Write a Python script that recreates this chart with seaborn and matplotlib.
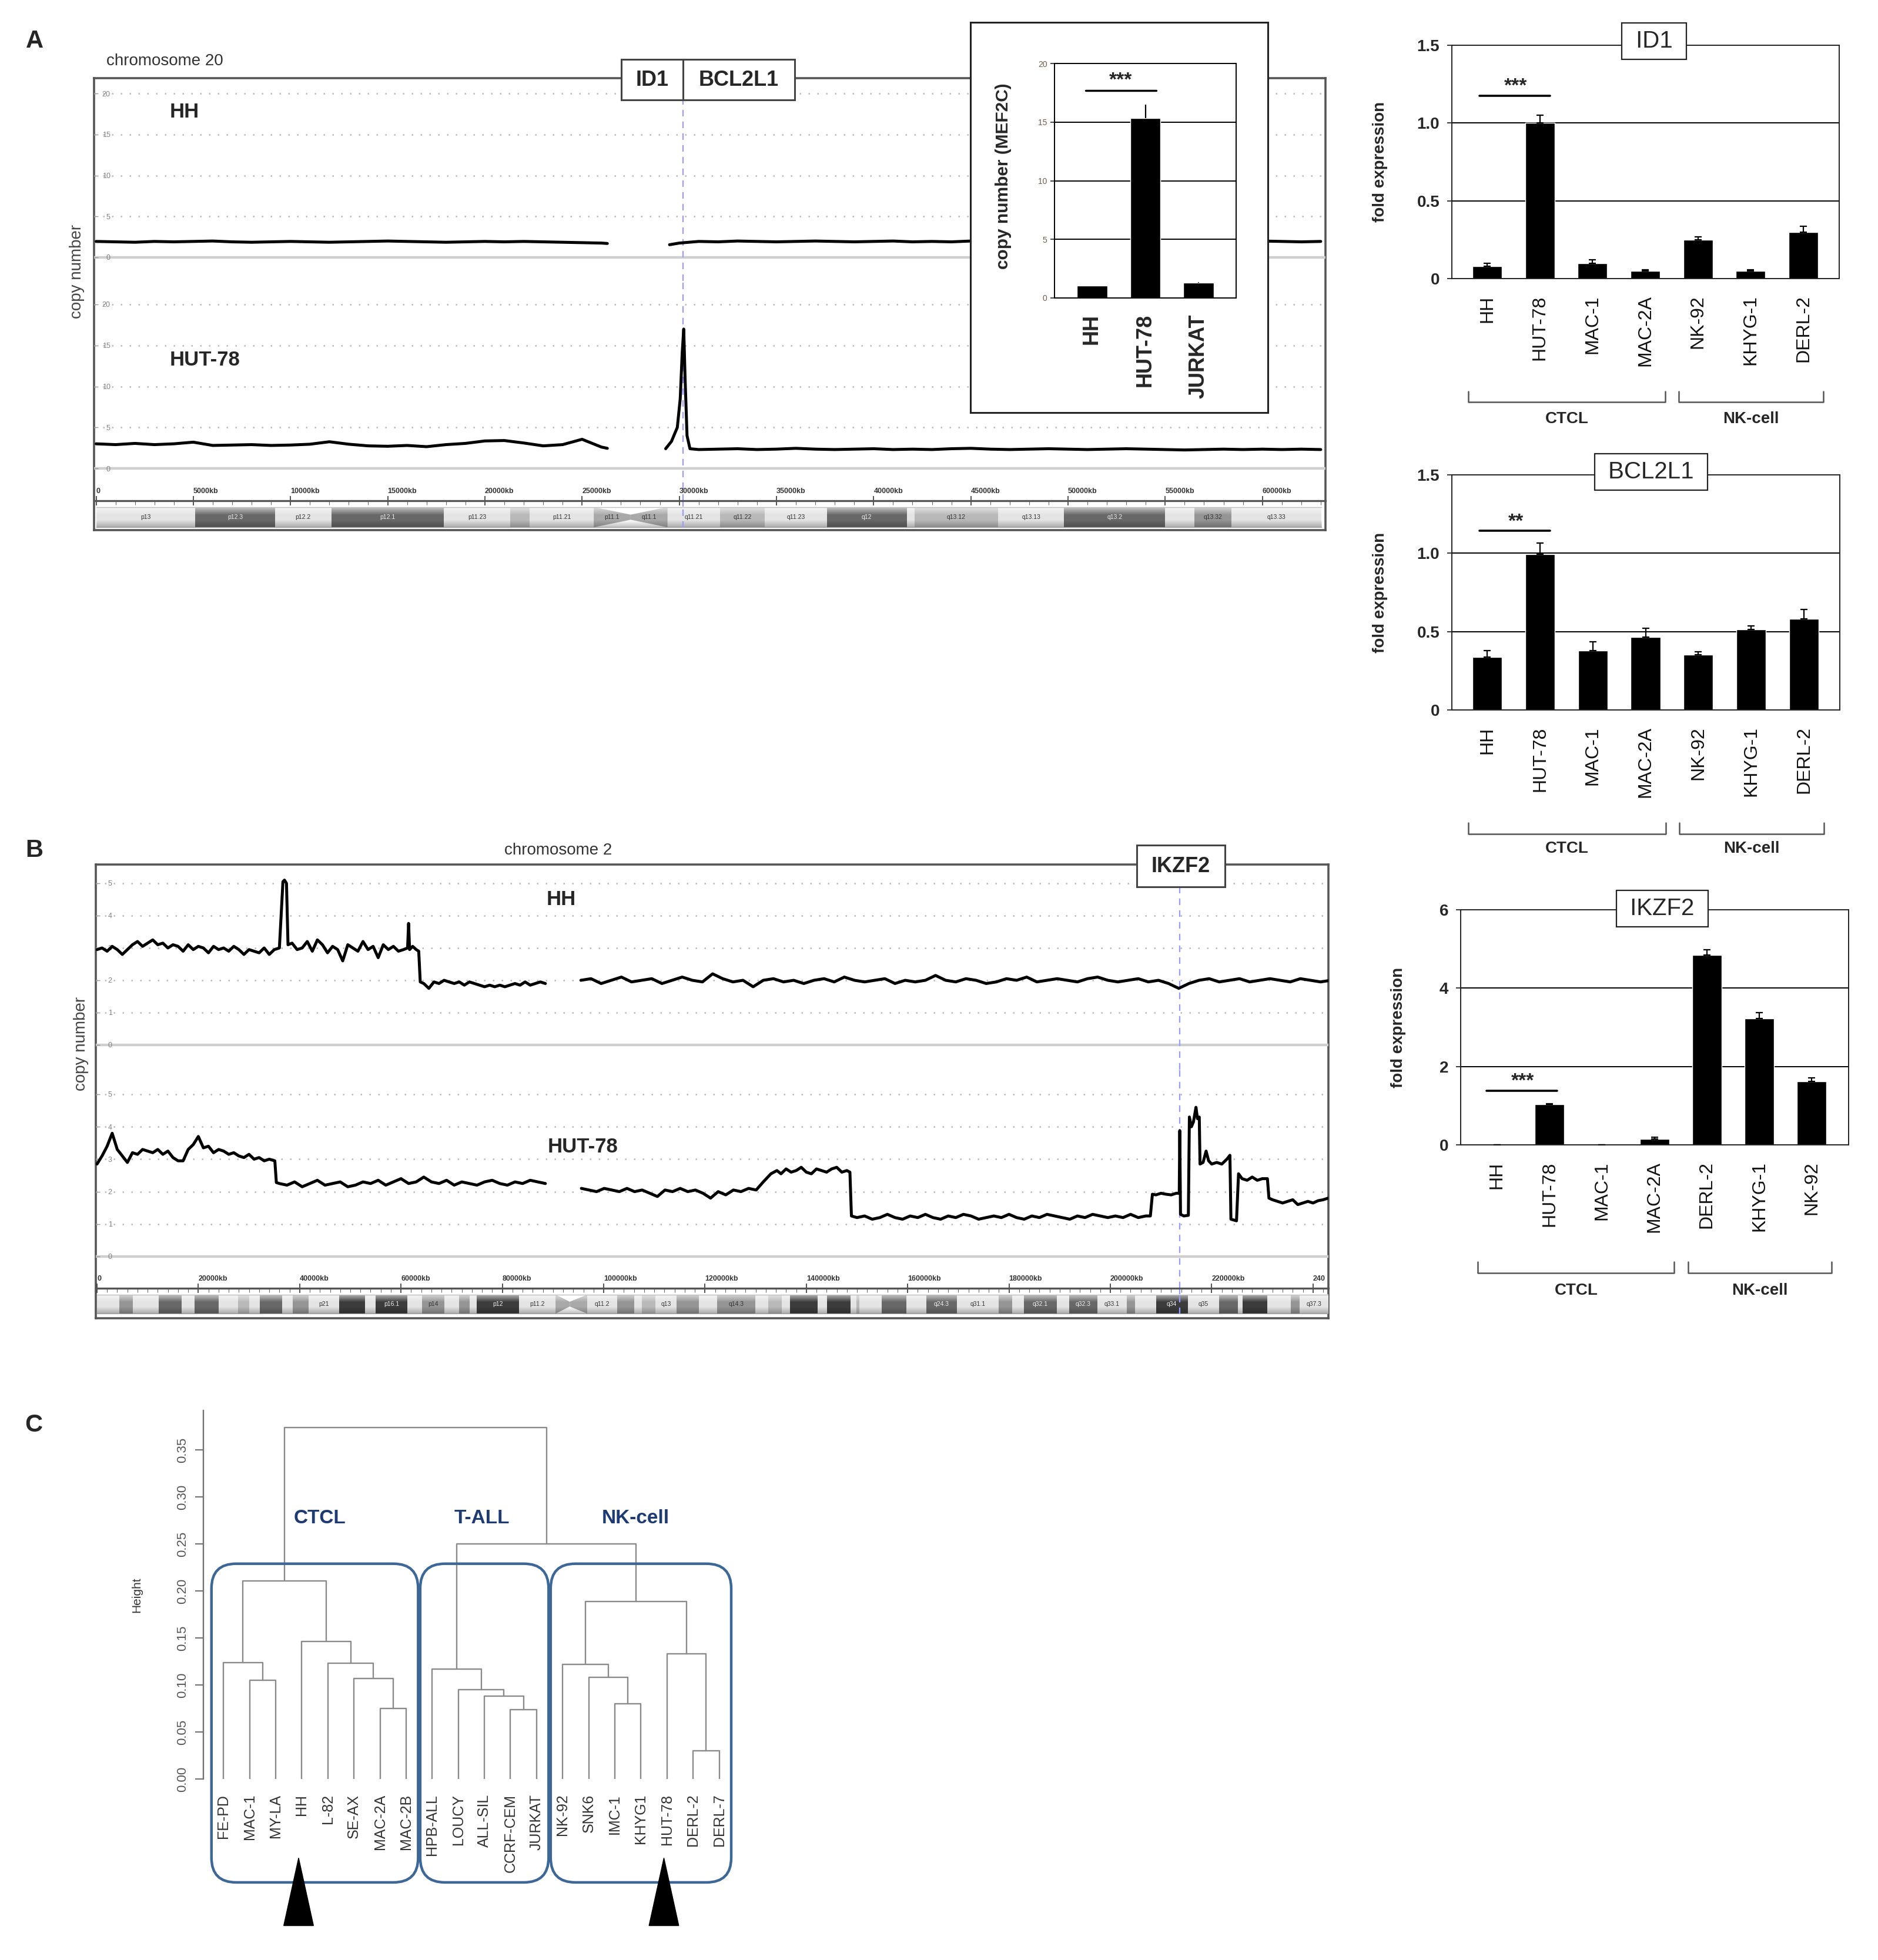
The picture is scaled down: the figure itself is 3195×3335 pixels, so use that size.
import numpy as np
import pandas as pd
import matplotlib
matplotlib.use("Agg")
import matplotlib.pyplot as plt
import matplotlib.transforms as mtransforms
from matplotlib.patches import Rectangle, FancyBboxPatch, Polygon
import seaborn as sns

sns.set_style("white")
plt.rcParams["font.family"] = ["Liberation Sans", "DejaVu Sans"]

# ============================ DATA ============================
# --- Panel A: qPCR bar charts ---
id1_cells = ["HH", "HUT-78", "MAC-1", "MAC-2A", "NK-92", "KHYG-1", "DERL-2"]
id1_vals = [0.08, 1.00, 0.10, 0.05, 0.25, 0.05, 0.30]
id1_errs = [0.02, 0.05, 0.02, 0.005, 0.02, 0.005, 0.035]

bcl_cells = ["HH", "HUT-78", "MAC-1", "MAC-2A", "NK-92", "KHYG-1", "DERL-2"]
bcl_vals = [0.336, 0.995, 0.379, 0.466, 0.353, 0.512, 0.581]
bcl_errs = [0.044, 0.07, 0.055, 0.054, 0.017, 0.023, 0.06]

ikz_cells = ["HH", "HUT-78", "MAC-1", "MAC-2A", "DERL-2", "KHYG-1", "NK-92"]
ikz_vals = [0.0, 1.03, 0.0, 0.15, 4.84, 3.23, 1.62]
ikz_errs = [0.0, 0.02, 0.0, 0.04, 0.14, 0.14, 0.09]

group_names = ["CTCL", "NK-cell"]
group_first = [0, 4]
group_last = [3, 6]

# inset: MEF2C copy number
mef_cells = ["HH", "HUT-78", "JURKAT"]
mef_vals = [1.05, 15.33, 1.30]
mef_errs = [0.0, 1.17, 0.05]

# --- chromosome 20 copy-number traces (Mb, copy number) ---
chr20_gene = 30.2
hh20_p = [1.95, 1.9, 1.85, 1.95, 1.9, 1.95, 2.0, 1.9, 1.85, 1.9, 1.95, 1.9, 1.85, 1.9,
          1.95, 2.0, 1.95, 1.9, 1.85, 1.9, 1.95, 1.9, 1.95, 1.9, 1.85, 1.8, 1.75]
hh20_gap_pos = [26.3, 27.8, 29.5, 30.0, 30.5]
hh20_gap_val = [1.7, np.nan, 1.55, 1.75, 1.85]
hh20_q = [1.95, 1.9, 2.0, 1.95, 1.9, 1.95, 2.0, 1.95, 1.9, 1.95, 2.0, 1.9, 1.95, 1.9, 2.0,
          1.95, 1.9, 1.95, 1.9, 2.0, 1.95, 1.9, 1.95, 2.0, 1.95, 1.9, 1.95, 1.9, 1.95, 2.0,
          1.95, 1.9, 1.95]
hut20_p = [3.0, 2.9, 3.05, 2.9, 3.0, 3.2, 2.8, 2.85, 2.9, 2.8, 2.85, 2.95, 3.25, 2.95,
           2.75, 2.7, 2.8, 2.65, 2.9, 3.05, 3.35, 3.4, 3.1, 2.75, 2.9, 3.55, 2.6]
hut20_amp_pos = [26.3, 27.8, 29.3, 29.6, 29.9, 30.05, 30.15, 30.23, 30.3, 30.4, 30.55]
hut20_amp_val = [2.45, np.nan, 2.4, 3.3, 5.0, 8.5, 14.0, 17.0, 11.0, 4.0, 2.4]
hut20_q = [2.3, 2.35, 2.4, 2.3, 2.35, 2.45, 2.35, 2.3, 2.35, 2.4, 2.3, 2.35, 2.3, 2.4,
           2.45, 2.35, 2.3, 2.35, 2.4, 2.35, 2.3, 2.35, 2.4, 2.35, 2.3, 2.25, 2.3, 2.35,
           2.3, 2.35, 2.3, 2.35, 2.3]

# --- chromosome 2 copy-number traces ---
chr2_gene = 213.7
hh2_a = [2.95, 3.0, 2.9, 3.05, 2.95, 2.8, 2.95, 3.1, 3.2, 3.05, 3.15, 3.25, 3.1, 3.15,
         3.0, 3.1, 3.05, 2.9, 3.1, 2.95, 3.05, 3.0, 2.85, 3.05, 2.95, 3.0, 2.9, 3.05,
         2.95, 2.8, 2.95, 2.9, 2.85, 3.0, 2.8, 2.95, 3.0]
hh2_spk_pos = [36.7, 37.0, 37.4, 37.7]
hh2_spk_val = [5.05, 5.1, 5.0, 3.1]
hh2_b = [3.15, 2.95, 3.0, 3.2, 2.9, 3.25, 3.1, 2.85, 3.05, 2.95, 2.6, 3.1, 3.0, 2.9,
         3.2, 2.95, 3.05, 2.7, 3.1, 2.95, 3.05, 2.9, 2.95]
hh2_brk_pos = [61.3, 61.5, 61.7, 62.3, 63.0, 63.5, 63.8]
hh2_brk_val = [3.0, 3.76, 2.95, 3.05, 2.95, 2.9, 1.95]
hh2_c = [1.9, 1.75, 1.95, 1.9, 2.0, 1.95, 1.9, 1.95, 1.85, 1.95, 1.9, 1.85, 1.8, 1.85,
         1.8, 1.85, 1.8, 1.85, 1.9, 1.85, 1.95, 1.85, 1.9, 1.95, 1.9]
hh2_d = [2.0, 2.05, 1.9, 2.0, 2.1, 1.95, 2.0, 2.05, 1.9, 2.0,
         2.1, 2.0, 1.95, 2.2, 2.05, 1.95, 2.0, 1.8, 2.0, 2.05,
         1.95, 2.0, 1.9, 2.0, 2.05, 1.95, 2.1, 2.0, 1.95, 2.0,
         2.05, 1.9, 2.0, 1.95, 2.0, 2.15, 2.0, 1.95, 2.05, 2.0,
         1.9, 1.95, 2.05, 2.0, 2.1, 1.95, 2.0, 2.05, 2.0, 1.95,
         2.05, 2.1, 2.0, 1.95, 2.0, 2.05, 1.95, 2.0, 1.9, 1.75,
         1.9, 2.0, 2.05, 1.95, 2.0, 2.05, 1.95, 2.0, 2.05, 2.0,
         1.95, 2.05, 2.0, 1.95, 2.0]

hut2_a = [2.85, 3.1, 3.4, 3.8, 3.3, 3.1, 2.9, 3.2, 3.15, 3.3, 3.25, 3.2, 3.3, 3.15,
          3.25, 3.05, 2.95, 2.95, 3.3, 3.45, 3.7, 3.35, 3.4, 3.2, 3.3, 3.25, 3.15, 3.2,
          3.1, 3.05, 3.15, 3.0, 3.05, 2.95, 3.0]
hut2_s1_pos = [35.1, 35.4]
hut2_s1_val = [2.95, 2.28]
hut2_b = [2.25, 2.2, 2.3, 2.15, 2.25, 2.35, 2.2, 2.25, 2.3, 2.15, 2.2, 2.3, 2.25, 2.35,
          2.2, 2.3, 2.4, 2.25, 2.3, 2.45, 2.3, 2.25, 2.35, 2.2, 2.3, 2.25, 2.2, 2.3,
          2.35, 2.25, 2.2, 2.3, 2.25, 2.35, 2.3, 2.25]
hut2_gap_pos = [92.0]
hut2_gap_val = [np.nan]
hut2_c = [2.1, 2.05, 2.0, 2.1, 2.05, 2.0, 2.1, 2.0, 2.05, 1.95, 1.85, 2.05, 2.0, 2.1,
          2.0, 2.05, 1.95, 1.8, 2.0, 1.9, 2.05, 2.0, 2.1, 2.05]
hut2_ramp_pos = [131.5, 133.0, 134.2]
hut2_ramp_val = [2.3, 2.55, 2.65]
hut2_d = [2.55, 2.7, 2.6, 2.65, 2.75, 2.6, 2.55, 2.7, 2.65, 2.6, 2.7, 2.75, 2.6, 2.65]
hut2_s2_pos = [148.6, 148.9]
hut2_s2_val = [2.6, 1.25]
hut2_e = [1.2, 1.25, 1.15, 1.2, 1.3, 1.2, 1.15, 1.25, 1.2, 1.3, 1.2, 1.15, 1.25, 1.2,
          1.3, 1.25, 1.15, 1.2, 1.25, 1.2, 1.3, 1.2, 1.15, 1.25, 1.2, 1.3, 1.25, 1.2,
          1.15, 1.25, 1.2, 1.3, 1.25, 1.2, 1.25, 1.2, 1.3, 1.2, 1.25]
hut2_tail_pos = [207.9, 208.3, 209, 210, 211, 212, 213, 213.6, 213.7, 213.85, 214.5,
                 215.4, 215.6, 216.0, 216.4, 216.9, 217.2, 217.55, 217.7, 218.3, 218.9,
                 219.4, 220, 221, 222, 223, 223.6, 223.8, 224.9, 225.3, 226, 227, 228,
                 229, 230, 231, 231.3, 232, 233, 234, 235, 236, 237, 238, 239, 240, 241,
                 242, 243]
hut2_tail_val = [1.25, 1.92, 1.9, 1.95, 1.92, 1.9, 1.95, 1.95, 3.88, 1.3, 1.25, 1.27,
                 4.3, 4.0, 4.15, 4.6, 4.25, 4.3, 2.85, 2.9, 3.25, 2.95, 2.85, 2.9, 2.85,
                 3.0, 3.12, 1.15, 1.1, 2.55, 2.4, 2.35, 2.45, 2.35, 2.4, 2.4, 1.8, 1.75,
                 1.7, 1.65, 1.7, 1.75, 1.6, 1.65, 1.7, 1.65, 1.72, 1.75, 1.8]

# --- cytobands ---
chr20_band_start = [0, 5.1, 9.2, 12.1, 17.9, 21.3, 22.3, 25.6, 27.5, 29.4, 32.1, 34.4,
                    37.6, 41.7, 42.1, 46.4, 49.8, 55.0, 56.5, 58.4]
chr20_len = 63.03
chr20_band_stain = ["gneg", "gpos75", "gneg", "gpos75", "gneg", "gpos25", "gneg", "acen",
                    "acen", "gneg", "gpos25", "gneg", "gpos75", "gneg", "gpos25", "gneg",
                    "gpos75", "gneg", "gpos50", "gneg"]
chr20_band_name = ["p13", "p12.3", "p12.2", "p12.1", "p11.23", "", "p11.21", "p11.1",
                   "q11.1", "q11.21", "q11.22", "q11.23", "q12", "", "q13.12", "q13.13",
                   "q13.2", "", "q13.32", "q13.33"]

chr2_band_start = [0, 4.4, 7.1, 12.2, 16.7, 19.2, 24.0, 27.9, 30.0, 32.1, 36.6, 38.6,
                   41.8, 47.8, 52.9, 55.0, 61.3, 64.1, 68.6, 71.5, 73.5, 75.0, 83.3, 90.5,
                   93.3, 96.8, 102.7, 106.0, 107.5, 110.2, 114.4, 118.8, 122.4, 129.9,
                   132.5, 135.1, 136.8, 142.2, 144.1, 148.7, 149.9, 150.5, 154.9, 159.8,
                   163.7, 169.7, 178.0, 180.6, 183.0, 189.4, 191.9, 197.4, 203.3, 204.9,
                   209.0, 215.3, 221.5, 225.2, 226.1, 231.0, 235.6, 237.3]
chr2_len = 243.2
chr2_band_stain = ["gneg", "gpos50", "gneg", "gpos75", "gneg", "gpos75", "gneg", "gpos25",
                   "gneg", "gpos75", "gneg", "gpos50", "gneg", "gpos100", "gneg", "gpos100",
                   "gneg", "gpos50", "gneg", "gpos50", "gneg", "gpos100", "gneg", "acen",
                   "acen", "gneg", "gpos50", "gneg", "gpos25", "gneg", "gpos50", "gneg",
                   "gpos50", "gneg", "gpos25", "gneg", "gpos100", "gneg", "gpos100", "gneg",
                   "gpos25", "gneg", "gpos75", "gneg", "gpos75", "gneg", "gpos50", "gneg",
                   "gpos75", "gneg", "gpos75", "gneg", "gpos50", "gneg", "gpos100", "gneg",
                   "gpos75", "gneg", "gpos100", "gneg", "gpos50", "gneg"]
chr2_band_name = ["", "", "", "", "", "", "", "", "", "", "", "", "p21", "", "", "p16.1",
                  "", "p14", "", "", "", "p12", "p11.2", "", "", "q11.2", "", "", "", "q13",
                  "", "", "q14.3", "", "", "", "", "", "", "", "", "", "", "", "q24.3",
                  "q31.1", "", "", "q32.1", "", "q32.3", "q33.1", "", "", "q34", "q35", "",
                  "", "", "", "", "q37.3"]

# --- Panel C: hierarchical clustering ---
leaf_names = ["FE-PD", "MAC-1", "MY-LA", "HH", "L-82", "SE-AX", "MAC-2A", "MAC-2B",
              "HPB-ALL", "LOUCY", "ALL-SIL", "CCRF-CEM", "JURKAT", "NK-92", "SNK6",
              "IMC-1", "KHYG1", "HUT-78", "DERL-2", "DERL-7"]
merge_a = [18, 11, 6, 15, 10, 9, 1, 5, 14, 8, 13, 4, 0, 17, 3, 30, 32, 29, 36]
merge_b = [19, 12, 7, 16, 21, 24, 2, 22, 23, 25, 28, 27, 26, 20, 31, 33, 34, 35, 37]
merge_h = [0.030, 0.074, 0.075, 0.080, 0.088, 0.095, 0.105, 0.107, 0.108, 0.117, 0.122,
           0.123, 0.124, 0.133, 0.146, 0.189, 0.211, 0.250, 0.374]
clust_names = ["CTCL", "T-ALL", "NK-cell"]
clust_first = [0, 8, 13]
clust_last = [7, 12, 19]
clust_label_x = [3.7, 9.9, 15.8]
marked_leaves = ["HH", "HUT-78"]

# ============================ FIGURE ============================
W, H = 3195, 3335
fig = plt.figure(figsize=(W / 100, H / 100), dpi=100)
fig.patch.set_facecolor("white")


def add_ax(x0, x1, y0, y1):
    return fig.add_axes([x0 / W, 1 - y1 / H, (x1 - x0) / W, (y1 - y0) / H])


def seg(start, step, vals):
    return start + step * np.arange(len(vals)), np.asarray(vals, float)


def pts(pos, vals):
    return np.asarray(pos, float), np.asarray(vals, float)


def join(*parts):
    return (np.concatenate([p[0] for p in parts]), np.concatenate([p[1] for p in parts]))


def lim_from_px(top_px, bot_px, zero_px, ref_px, ref_val):
    k = (zero_px - ref_px) / ref_val
    return (-(bot_px - zero_px) / k, ref_val + (ref_px - top_px) / k)


GENE_COL = "#9a9aff"


def frame_ax(x0, x1, y0, y1, ec="#555555", lw=2.6):
    ax = add_ax(x0, x1, y0, y1)
    ax.set_xticks([]); ax.set_yticks([])
    ax.set_facecolor("white")
    for s in ax.spines.values():
        s.set_visible(True); s.set_color(ec); s.set_linewidth(lw)
    return ax


def plot_trace(ax, x, y):
    idx = np.where(np.isnan(y))[0]
    bounds = [-1] + list(idx) + [len(y)]
    for a, b in zip(bounds[:-1], bounds[1:]):
        xs, ys = x[a + 1:b], y[a + 1:b]
        if len(xs) > 1:
            sns.lineplot(x=xs, y=ys, ax=ax, color="black", linewidth=3.6,
                         estimator=None, sort=False, legend=False)


def draw_track(ax, x, y, grid, xlim, ylim, gene):
    plot_trace(ax, x, y)
    ax.set_xlim(*xlim); ax.set_ylim(*ylim)
    ax.patch.set_alpha(0)
    for s in ax.spines.values():
        s.set_visible(False)
    for g in grid[1:]:
        ax.axhline(g, color="#b8b8b8", lw=1.8, ls=(0, (1, 5)), zorder=0)
    ax.axhline(0, color="#cfcfcf", lw=3.2, zorder=0)
    ax.axvline(gene, color=GENE_COL, lw=1.6, ls=(0, (5, 4)), zorder=0.5)
    ax.set_xticks([]); ax.set_xlabel(""); ax.set_ylabel("")
    ax.set_yticks(grid)
    ax.set_yticklabels([str(g) for g in grid])
    ax.tick_params(axis="y", left=True, direction="in", length=5, width=1,
                   pad=-20, labelsize=9, labelcolor="#808080", color="#999999")


def draw_ruler(ax, xlim, major, labels, minor, gene):
    ax.set_xlim(*xlim); ax.set_ylim(0, 1)
    ax.patch.set_alpha(0)
    for k in ["left", "right", "bottom"]:
        ax.spines[k].set_visible(False)
    ax.spines["top"].set_visible(True)
    ax.spines["top"].set_color("#555555"); ax.spines["top"].set_linewidth(2.4)
    ax.xaxis.tick_top()
    ax.set_xticks(major)
    ax.set_xticklabels(labels, fontsize=9, fontweight="bold", color="#333333")
    ax.set_xticks(minor, minor=True)
    ax.tick_params(axis="x", which="major", top=True, bottom=False, direction="inout",
                   length=12, width=1.3, color="#444444", pad=1)
    ax.tick_params(axis="x", which="minor", top=True, bottom=False, direction="in",
                   length=5, width=0.8, color="#666666")
    for t in ax.get_xticklabels():
        t.set_ha("left")
    ax.set_yticks([])
    ax.axvline(gene, color=GENE_COL, lw=1.6, ls=(0, (5, 4)))


STAIN_COL = {"gneg": "#e4e4e4", "gpos25": "#b9b9b9", "gpos50": "#959595",
             "gpos75": "#686868", "gpos100": "#3c3c3c", "acen": "#a9a9a9"}


def draw_ideogram(ax, starts, length, stains, names, xlim, gene):
    ends = list(starts[1:]) + [length]
    ax.set_xlim(*xlim); ax.set_ylim(0, 1)
    ax.axis("off")
    first_acen = True
    for s, e, st, nm in zip(starts, ends, stains, names):
        col = STAIN_COL[st]
        if st == "acen":
            if first_acen:
                poly = [(s, 0.02), (s, 0.98), (e, 0.62), (e, 0.38)]
                first_acen = False
            else:
                poly = [(s, 0.38), (s, 0.62), (e, 0.98), (e, 0.02)]
            ax.add_patch(Polygon(poly, closed=True, fc=col, ec="none", zorder=1))
        else:
            ax.bar(s, 0.96, width=e - s, bottom=0.02, align="edge", color=col,
                   edgecolor="none", zorder=1)
        if nm:
            tc = "#eeeeee" if st in ("gpos75", "gpos100") else "#333333"
            ax.text((s + e) / 2, 0.5, nm, ha="center", va="center", fontsize=7.5,
                    color=tc, zorder=4)
    t = np.linspace(0, 1, 60)
    rgba = np.zeros((60, 1, 4))
    rgba[:, 0, :3] = 1.0
    rgba[:, 0, 3] = np.clip(0.65 - 1.6 * t, 0, None)
    ax.imshow(rgba, extent=[starts[0], length, 0.02, 0.98], aspect="auto", zorder=2,
              interpolation="bilinear")
    shade = np.zeros((60, 1, 4))
    shade[:, 0, 3] = np.clip((t - 0.65) * 0.7, 0, None)
    ax.imshow(shade, extent=[starts[0], length, 0.02, 0.98], aspect="auto", zorder=2.5,
              interpolation="bilinear")
    ax.plot([starts[0], length], [0.02, 0.02], color="#9a9a9a", lw=1, zorder=3)
    ax.plot([starts[0], length], [0.98, 0.98], color="#bdbdbd", lw=1, zorder=3)
    ax.axvline(gene, color=GENE_COL, lw=1.6, ls=(0, (5, 4)), zorder=5)


# ---------------- Panel A: chromosome 20 ----------------
c20_x0, c20_x1 = 160, 2255
chr20_xlim = ((c20_x0 - 163.5) / 33.07, (c20_x1 - 163.5) / 33.07)
frame_ax(c20_x0, c20_x1, 133, 902)

hh20 = join(seg(0, 1, hh20_p), pts(hh20_gap_pos, hh20_gap_val), seg(31, 1, hh20_q))
hut20 = join(seg(0, 1, hut20_p), pts(hut20_amp_pos, hut20_amp_val), seg(31, 1, hut20_q))

ax = add_ax(c20_x0, c20_x1, 133, 478)
draw_track(ax, hh20[0], hh20[1], [0, 5, 10, 15, 20], chr20_xlim,
           lim_from_px(133, 478, 438, 159, 20), chr20_gene)
ax = add_ax(c20_x0, c20_x1, 478, 852)
draw_track(ax, hut20[0], hut20[1], [0, 5, 10, 15, 20], chr20_xlim,
           lim_from_px(478, 852, 797, 518, 20), chr20_gene)
ax = add_ax(c20_x0, c20_x1, 852, 862)
maj20 = list(range(0, 61, 5))
draw_ruler(ax, chr20_xlim, maj20, ["0"] + [f"{m * 1000}kb" for m in maj20[1:]],
           list(range(0, 64, 1)), chr20_gene)
ax = add_ax(c20_x0, c20_x1, 862, 898)
draw_ideogram(ax, chr20_band_start, chr20_len, chr20_band_stain, chr20_band_name,
              chr20_xlim, chr20_gene)

# ---------------- Panel B: chromosome 2 ----------------
c2_x0, c2_x1 = 163, 2260
chr2_xlim = ((c2_x0 - 165) / 8.62, (c2_x1 - 165) / 8.62)
frame_ax(c2_x0, c2_x1, 1471, 2243)

hh2 = join(seg(0, 1, hh2_a), pts(hh2_spk_pos, hh2_spk_val), seg(38.5, 1, hh2_b),
           pts(hh2_brk_pos, hh2_brk_val), seg(64.5, 1, hh2_c), pts([92.0], [np.nan]),
           seg(95.5, 2, hh2_d))
hut2 = join(seg(0, 1, hut2_a), pts(hut2_s1_pos, hut2_s1_val), seg(36, 1.5, hut2_b),
            pts(hut2_gap_pos, hut2_gap_val), seg(95.6, 1.5, hut2_c),
            pts(hut2_ramp_pos, hut2_ramp_val), seg(135, 1, hut2_d),
            pts(hut2_s2_pos, hut2_s2_val), seg(150, 1.5, hut2_e),
            pts(hut2_tail_pos, hut2_tail_val))

ax = add_ax(c2_x0, c2_x1, 1471, 1820)
draw_track(ax, hh2[0], hh2[1], [0, 1, 2, 3, 4, 5], chr2_xlim,
           lim_from_px(1471, 1820, 1778, 1503, 5), chr2_gene)
ax = add_ax(c2_x0, c2_x1, 1820, 2192)
draw_track(ax, hut2[0], hut2[1], [0, 1, 2, 3, 4, 5], chr2_xlim,
           lim_from_px(1820, 2192, 2138, 1862, 5), chr2_gene)
ax = add_ax(c2_x0, c2_x1, 2192, 2202)
maj2 = list(range(0, 241, 20))
draw_ruler(ax, chr2_xlim, maj2,
           ["0"] + [f"{m * 1000}kb" for m in maj2[1:-1]] + ["240"],
           list(range(0, 244, 2)), chr2_gene)
ax = add_ax(c2_x0, c2_x1, 2202, 2236)
draw_ideogram(ax, chr2_band_start, chr2_len, chr2_band_stain, chr2_band_name,
              chr2_xlim, chr2_gene)

# ---------------- inset: MEF2C copy number ----------------
frame_ax(1651, 2157, 38, 702, ec="#222222", lw=2.2)
axi = add_ax(1794, 2103, 108, 507)
sns.barplot(x=mef_cells, y=mef_vals, order=mef_cells, color="black", width=0.57,
            saturation=1, errorbar=None, ax=axi)
axi.errorbar(range(3), mef_vals, yerr=[np.zeros(3), mef_errs], fmt="none",
             ecolor="black", elinewidth=1.6, capsize=0, zorder=3)
axi.set_xlim(-0.7, 2.7); axi.set_ylim(0, 20)
for g in [5, 10, 15]:
    axi.axhline(g, color="black", lw=1.4, zorder=0)
for s in axi.spines.values():
    s.set_visible(True); s.set_color("black"); s.set_linewidth(1.4)
axi.set_yticks([0, 5, 10, 15, 20])
axi.set_yticklabels(["0", "5", "10", "15", "20"])
axi.tick_params(axis="y", left=True, length=5, width=1.2, labelsize=10,
                labelcolor="#6d5d4d", pad=4)
axi.set_xticks(range(3))
axi.set_xticklabels(mef_cells, rotation=90, fontsize=26, fontweight="bold")
axi.tick_params(axis="x", bottom=False, pad=16)
axi.set_xlabel("")
axi.set_ylabel("copy number (MEF2C)", fontsize=21.5, fontweight="bold")
axi.yaxis.set_label_coords(-0.235, 0.52)
axi.plot([-0.12, 1.2], [17.7, 17.7], color="black", lw=2.5)
axi.text(0.54, 17.75, "***", ha="center", va="bottom", fontsize=24, fontweight="bold")


# ---------------- bar charts ----------------
def bar_chart(ax, cats, vals, errs, ylim, yticks, yticklabels, xlim, title, title_xy,
              sig_x, sig_y, sig_txt, brk_y, grp_label_y, ylabel_x):
    n = len(cats)
    sns.barplot(x=cats, y=vals, order=cats, color="black", width=0.56, saturation=1,
                errorbar=None, ax=ax)
    ax.errorbar(range(n), vals, yerr=[np.zeros(n), errs], fmt="none", ecolor="black",
                elinewidth=1.6, capsize=4, capthick=1.6, zorder=3)
    ax.set_xlim(*xlim); ax.set_ylim(*ylim)
    for g in yticks[1:-1]:
        ax.axhline(g, color="black", lw=1.4, zorder=0)
    for s in ax.spines.values():
        s.set_visible(True); s.set_color("#222222"); s.set_linewidth(1.4)
    ax.set_yticks(yticks)
    ax.set_yticklabels(yticklabels, fontsize=20, fontweight="bold")
    ax.tick_params(axis="y", left=True, length=6, width=1.3, pad=9)
    ax.set_xticks(range(n))
    ax.set_xticklabels(cats, rotation=90, fontsize=23, color="#111111")
    ax.tick_params(axis="x", bottom=False, pad=17)
    ax.set_xlabel("")
    ax.set_ylabel("fold expression", fontsize=20, fontweight="bold")
    ax.yaxis.set_label_coords(ylabel_x, 0.5)
    ax.text(title_xy[0], title_xy[1], " " + title + " ", transform=ax.transAxes,
            ha="center", va="center", fontsize=29, zorder=10, clip_on=False,
            bbox=dict(boxstyle="square,pad=0.3", fc="white", ec="#222222", lw=1.6))
    ax.plot(sig_x, [sig_y, sig_y], color="black", lw=2.6, zorder=4)
    ax.text(np.mean(sig_x) + 0.02, sig_y + 0.0 * (ylim[1] - ylim[0]), sig_txt,
            ha="center", va="bottom", fontsize=24, fontweight="bold")
    tr = mtransforms.blended_transform_factory(ax.transData, ax.transAxes)
    for name, a, b in zip(group_names, group_first, group_last):
        xa, xb = a - 0.36, b + 0.38
        ax.plot([xa, xa, xb, xb], [brk_y[0], brk_y[1], brk_y[1], brk_y[0]],
                transform=tr, clip_on=False, color="#555555", lw=1.8)
        ax.text((xa + xb) / 2, grp_label_y, name, transform=tr, ha="center",
                va="center", fontsize=20, fontweight="bold")


ax1 = add_ax(2470, 3129, 77, 474)
bar_chart(ax1, id1_cells, id1_vals, id1_errs, (0, 1.5), [0, 0.5, 1.0, 1.5],
          ["0", "0.5", "1.0", "1.5"], (-0.67, 6.68), "ID1", (0.522, 1.018),
          [-0.15, 1.19], 1.175, "***", (-0.484, -0.529), -0.602, -0.165)
ax2 = add_ax(2470, 3130, 808, 1208)
bar_chart(ax2, bcl_cells, bcl_vals, bcl_errs, (0, 1.5), [0, 0.5, 1.0, 1.5],
          ["0", "0.5", "1.0", "1.5"], (-0.67, 6.68), "BCL2L1", (0.514, 1.0125),
          [-0.15, 1.19], 1.143, "**", (-0.48, -0.5275), -0.59, -0.165)
ax3 = add_ax(2485, 3145, 1548, 1948)
bar_chart(ax3, ikz_cells, ikz_vals, ikz_errs, (0, 6), [0, 2, 4, 6],
          ["0", "2", "4", "6"], (-0.69, 6.70), "IKZF2", (0.52, 1.005),
          [-0.2, 1.15], 1.38, "***", (-0.4975, -0.545), -0.62, -0.141)

# ---------------- Panel C: dendrogram ----------------
axd = add_ax(346, 1260, 2400, 3027)
axd.set_xlim(-0.77, 19.82); axd.set_ylim(0, 0.392)
node_x = list(np.arange(len(leaf_names), dtype=float))
node_h = [0.0] * len(leaf_names)
for a, b, hgt in zip(merge_a, merge_b, merge_h):
    xa, xb = node_x[a], node_x[b]
    sns.lineplot(x=[xa, xa, xb, xb], y=[node_h[a], hgt, hgt, node_h[b]], ax=axd,
                 color="#8a8a8a", linewidth=1.7, estimator=None, sort=False,
                 legend=False)
    node_x.append((xa + xb) / 2)
    node_h.append(hgt)
axd.set_xlim(-0.77, 19.82); axd.set_ylim(0, 0.392)
axd.patch.set_alpha(0)
for k in ["top", "right", "bottom"]:
    axd.spines[k].set_visible(False)
axd.spines["left"].set_visible(True)
axd.spines["left"].set_color("#707070"); axd.spines["left"].set_linewidth(1.7)
yt = [0.0, 0.05, 0.10, 0.15, 0.20, 0.25, 0.30, 0.35]
axd.set_yticks(yt)
axd.set_yticklabels([f"{v:.2f}" for v in yt], rotation=90, va="center", fontsize=16,
                    color="#555555")
axd.tick_params(axis="y", left=True, length=10, width=1.5, color="#707070", pad=8)
axd.set_xticks(range(len(leaf_names)))
axd.set_xticklabels(leaf_names, rotation=90, fontsize=18, color="#333333")
axd.tick_params(axis="x", bottom=False, pad=15)
axd.set_xlabel("")
axd.set_ylabel("Height", fontsize=15, color="#333333")
axd.yaxis.set_label_coords(-0.113, 0.5)
for name, lx in zip(clust_names, clust_label_x):
    axd.text(lx, 0.277, name, ha="center", va="center", fontsize=24, fontweight="bold",
             color="#1f3b73")

# ---------------- overlay (annotations) ----------------
ov = fig.add_axes([0, 0, 1, 1])
ov.set_xlim(0, W); ov.set_ylim(H, 0)
ov.axis("off"); ov.patch.set_alpha(0)


def d2px(ax, x, y):
    d = ax.transData.transform((x, y))
    return d[0], H - d[1]


for lab, (x, y) in zip(["A", "B", "C"], [(59, 70), (58, 1447), (57, 2425)]):
    ov.text(x, y, lab, fontsize=30, fontweight="bold", ha="center", va="center")

ov.text(181, 104, "chromosome 20", fontsize=20, color="#333333", ha="left", va="center")
ov.text(950, 1447, "chromosome 2", fontsize=20, color="#333333", ha="center",
        va="center")
ov.text(131, 462, "copy number", fontsize=20, color="#444444", rotation=90,
        ha="center", va="center")
ov.text(138, 1776, "copy number", fontsize=20, color="#444444", rotation=90,
        ha="center", va="center")
ov.text(289, 190, "HH", fontsize=25, fontweight="bold", ha="left", va="center")
ov.text(289, 612, "HUT-78", fontsize=25, fontweight="bold", ha="left", va="center")
ov.text(955, 1530, "HH", fontsize=25, fontweight="bold", ha="center", va="center")
ov.text(992, 1951, "HUT-78", fontsize=25, fontweight="bold", ha="center", va="center")

# gene label boxes on the chromosome panels
ov.add_patch(Rectangle((1057, 101), 295, 69, fc="white", ec="#444444", lw=2.2, zorder=5))
ov.plot([1162, 1162], [101, 170], color="#444444", lw=2.2, zorder=6)
ov.text(1110, 136, "ID1", fontsize=26, fontweight="bold", ha="center", va="center",
        zorder=7)
ov.text(1257, 136, "BCL2L1", fontsize=26, fontweight="bold", ha="center", va="center",
        zorder=7)
ov.add_patch(Rectangle((1934, 1438), 150, 71, fc="white", ec="#444444", lw=2.2, zorder=5))
ov.text(2009, 1474, "IKZF2", fontsize=26, fontweight="bold", ha="center", va="center",
        zorder=7)

# cluster boxes
for a, b in zip(clust_first, clust_last):
    x0, y0 = d2px(axd, a - 0.46, 0.229)
    x1, y1 = d2px(axd, b + 0.46, -0.11)
    ov.add_patch(FancyBboxPatch((x0, y0), x1 - x0, y1 - y0,
                                boxstyle="round,pad=0,rounding_size=42",
                                fc="none", ec="#3c6797", lw=3.2, zorder=5))
# arrowheads under marked cell lines
for nm in marked_leaves:
    i = leaf_names.index(nm)
    ax_, ay_ = d2px(axd, i - 0.12, -0.084)
    bl = d2px(axd, i - 0.12 - 0.57, -0.156)
    br = d2px(axd, i - 0.12 + 0.57, -0.156)
    ov.add_patch(Polygon([bl, br, (ax_, ay_)], closed=True, fc="black", ec="black",
                         zorder=6))

fig.savefig("out.png", dpi=100, facecolor="white")
